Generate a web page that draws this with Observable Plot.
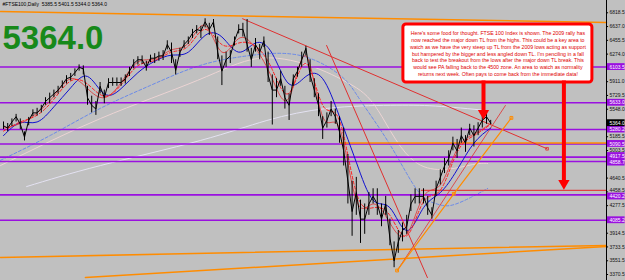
<!DOCTYPE html>
<html><head><meta charset="utf-8">
<script src="https://cdn.jsdelivr.net/npm/d3@7"></script>
<script src="https://cdn.jsdelivr.net/npm/@observablehq/plot@0.6"></script>
<style>body{margin:0;background:#c0c0c0;overflow:hidden} svg{display:block}</style>
</head><body><div id="chart"></div>
<script>
// ---------- data ----------
const startDate = "2005-08-15";   // left edge of the chart
const endDate = "2011-02-25";     // right edge of the chart
const seriesStart = "2005-08-25"; // first price sample
const symbol = "#FTSE100,Daily";
const ohlcText = "5385.5 5401.5 5344.0 5364.0";
const lastPrice = 5364.0;
// bi-weekly closes, lows, highs
const closes = [5330,5300,5380,5450,5350,5180,5400,5500,5500,5560,5650,5700,5750,5800,5870,5950,5970,6030,6100,6080,5700,5600,5550,5850,5700,5900,5900,5900,5900,5950,6050,6150,6200,6200,6100,6220,6220,6250,6250,6400,6300,6060,6300,6400,6460,6550,6600,6580,6700,6600,6700,6300,6050,6200,6250,6450,6600,6600,6400,6200,6400,6300,6450,6000,5800,5800,5950,5700,5600,5950,6050,6200,6350,6000,5800,5600,5300,5400,5550,5450,5250,5000,4600,4200,4450,4100,4100,4300,4400,4300,4100,4300,3850,3550,3800,3950,4000,4300,4400,4400,4400,4250,4150,4500,4650,4800,4900,5100,5000,5200,5100,5300,5200,5300,5400,5450,5364];
const lows = [5280,5250,5320,5380,5280,5130,5330,5450,5460,5500,5600,5620,5700,5750,5820,5880,5920,5980,6050,6000,5600,5500,5467,5750,5620,5820,5850,5850,5850,5880,5980,6080,6130,6140,6050,6160,6150,6180,6190,6330,6150,6000,6230,6350,6400,6480,6540,6480,6620,6520,6620,6200,5860,6100,6150,6380,6540,6500,6300,6100,6300,6200,6360,5900,5340,5700,5850,5550,5400,5850,5970,6100,6250,5900,5700,5450,5150,5300,5450,5350,5100,4800,4300,3874,4150,3780,3900,4150,4300,4150,4000,4150,3750,3460,3650,3800,3900,4200,4300,4300,4300,4150,4100,4400,4550,4700,4800,5000,4900,5100,4980,5200,5050,5200,5300,5350,5344];
const highs = [5380,5360,5420,5480,5420,5250,5440,5540,5560,5600,5700,5760,5800,5850,5920,5990,6020,6080,6132,6120,5850,5720,5650,5900,5800,5950,5960,5960,5960,6000,6100,6200,6240,6250,6180,6260,6280,6300,6320,6450,6420,6200,6350,6450,6500,6600,6650,6640,6740,6680,6730,6500,6250,6300,6320,6500,6660,6680,6730,6350,6480,6400,6500,6300,6000,5950,6050,5850,5750,6000,6100,6300,6376,6200,5950,5750,5450,5500,5650,5550,5450,5300,4950,4600,4650,4350,4300,4450,4500,4500,4300,4400,4100,3800,3950,4050,4150,4420,4500,4500,4500,4400,4250,4600,4750,4900,5000,5180,5150,5300,5200,5350,5330,5370,5450,5500,5401];
// moving averages, every 8 weeks
const maFastDashed = [5260,5380,5470,5680,5920,5880,5720,5870,6120,6190,6300,6380,6600,6400,6420,6380,6070,5760,6150,5600,5400,4450,4250,4150,3880,4330,4480,4980,5200,5350];
const maFastSolid  = [5300,5360,5500,5720,5950,5820,5700,5900,6170,6210,6330,6420,6650,6300,6480,6350,5950,5700,6250,5450,5300,4350,4300,4050,3900,4400,4550,5020,5220,5360];
const maMid        = [5200,5370,5380,5580,5830,5980,5750,5820,6030,6180,6260,6300,6520,6500,6300,6420,6280,5880,5980,5950,5450,4850,4350,4250,3950,4250,4450,4750,5100,5300];
// slower averages: [date, value]
const maSlow = [["2005-08-15",4875],["2006-01-29",5205],["2006-07-14",5560],["2006-12-28",5862],["2007-06-12",6125],["2007-11-25",6256],["2008-05-10",6256],["2008-09-21",5993],["2008-11-27",5663],["2009-03-07",5070],["2009-06-05",4477],["2009-08-04",4306],["2009-09-23",4280],["2009-11-29",4385],["2010-01-25",4504]];
const ma200 = [["2005-08-15",4806],["2006-07-14",5425],["2007-06-02",5927],["2007-12-20",6216],["2008-06-10",6124],["2008-10-20",5887],["2009-01-25",5531],["2009-06-05",4833],["2009-11-20",4806],["2010-01-25",4833]];
const ma365 = [["2005-11-10",4529],["2006-07-14",4806],["2007-06-12",5136],["2008-01-20",5400],["2008-08-10",5560],["2009-03-07",5600],["2009-08-04",5590],["2010-01-25",5530]];
// horizontal levels (purple), red & orange levels
const levels = [6103.5, 5633.0, 5280.2, 5090.5, 4917.5, 4858.7, 4420.2, 4085.2];
const redLevel = {from: "2009-06-18", value: 4480};
const orangeLevel = {from: "2008-09-21", value: 5103};
// trend lines: [date, value] endpoints
const orangeTop = [["2005-08-15",6835],["2011-02-25",6690]];
const majorDownTL = [["2007-10-31",6740],["2010-08-11",5027]];
const steepDownTL = [["2008-08-06",6388],["2009-07-08",3330]];
const redUpTL = [["2009-04-03",3450],["2010-03-25",5597]];
const orangeUpTL = [["2009-03-29",3423],["2009-10-04",4434],["2010-04-14",5434]];
const orangeBottomA = [["2005-08-15",3596],["2011-02-25",3754]];
const orangeBottomB = [["2006-05-25",3332],["2011-02-25",3741]];
const axisTicks = [6818.5,6637.0,6455.5,6274.0,5911.0,5729.5,5548.0,5185.5,5003.5,4640.5,4458.5,4277.5,3914.5,3733.5,3551.5,3370.5];
const note = "Here's some food for thought. FTSE 100 Index is shown. The 2009 rally has\nnow reached the major down TL from the highs. This could be a key area to\nwatch as we have the very steep up TL from the 2009 lows acting as support\nbut hampered by the bigger and less angled down TL. I'm penciling in a fall\nback to test the breakout from the lows after the major down TL break. This\nwould see PA falling back to the 4500 zone. An area to watch as normality\nreturns next week. Often pays to come back from the immediate data!";
const noteBox = {x1: "2009-04-19", x2: "2011-01-09", y1: 5900, y2: 6664};
const arrows = [{x: "2010-01-11", from: 5920, to: 5410}, {x: "2010-10-06", from: 5920, to: 4490}];

// ---------- build ----------
const D = s => new Date(s + "T00:00:00Z");
const t0 = D(startDate);
const s0 = D(seriesStart);
const bars = closes.map((c, i) => ({date: d3.utcDay.offset(s0, 14 * i), close: c, low: lows[i], high: highs[i]}));
const ma8 = arr => arr.map((v, i) => ({date: d3.utcDay.offset(s0, 56 * i), v}));
const pts = arr => arr.map(([d, v]) => ({date: D(d), v}));
const xEnd = D(endDate);
const lab = (v) => ({v, x1: d3.utcDay.offset(xEnd, 3), x2: d3.utcDay.offset(xEnd, 62)});
const purple = "#9a10e0";
const font = "Liberation Sans, Arial, sans-serif";
const noteMid = new Date((D(noteBox.x1).getTime() + D(noteBox.x2).getTime()) / 2);
// small label nudges where axis labels crowd each other (in price units)
const nudge = new Map([[4917.5, 14], [4858.7, -14], [4420.2, -22], [4458.5, 22]]);
const ny = d => d + (nudge.get(d) || 0);

const chart = Plot.plot({
  width: 625, height: 280,
  marginLeft: 0, marginRight: 19, marginTop: 0, marginBottom: 0,
  style: {background: "#c0c0c0", fontFamily: font, overflow: "visible"},
  x: {type: "utc", domain: [t0, xEnd], axis: null},
  y: {domain: [3291.5, 6980.5], axis: null},
  marks: [
    // long averages
    Plot.line(pts(ma365), {x: "date", y: "v", stroke: "#e4e2f2", strokeWidth: 1, curve: "natural"}),
    Plot.line(pts(ma200), {x: "date", y: "v", stroke: "#ecd4d4", strokeWidth: 1, curve: "natural"}),
    Plot.line(pts(maSlow), {x: "date", y: "v", stroke: "#6b8ae8", strokeWidth: 1, strokeDasharray: "3,2", curve: "natural"}),
    // horizontal levels
    Plot.ruleY(levels, {stroke: purple, strokeWidth: 1.6}),
    Plot.ruleY([redLevel], {y: "value", x1: d => D(d.from), x2: xEnd, stroke: "#e04040", strokeWidth: 1.2}),
    Plot.ruleY([orangeLevel], {y: "value", x1: d => D(d.from), x2: xEnd, stroke: "#ff8c00", strokeWidth: 1.4}),
    // trend lines
    Plot.line(pts(orangeTop), {x: "date", y: "v", stroke: "#ff8c00", strokeWidth: 1.5}),
    Plot.line(pts(orangeBottomA), {x: "date", y: "v", stroke: "#ff8c00", strokeWidth: 1.5}),
    Plot.line(pts(orangeBottomB), {x: "date", y: "v", stroke: "#ff8c00", strokeWidth: 1.5}),
    Plot.line(pts(majorDownTL), {x: "date", y: "v", stroke: "#e03030", strokeWidth: 1}),
    Plot.dot(pts(majorDownTL).slice(1), {x: "date", y: "v", symbol: "square", r: 1.5, stroke: "#e03030", fill: "none", strokeWidth: 0.8}),
    Plot.line(pts(steepDownTL), {x: "date", y: "v", stroke: "#e03030", strokeWidth: 1}),
    Plot.line(pts(redUpTL), {x: "date", y: "v", stroke: "#e03030", strokeWidth: 0.8}),
    Plot.line(pts(orangeUpTL), {x: "date", y: "v", stroke: "#ff8c00", strokeWidth: 1.2}),
    Plot.dot(pts(orangeUpTL), {x: "date", y: "v", symbol: "square", r: 1.6, stroke: "#ff8c00", fill: "none", strokeWidth: 1}),
    // short averages
    Plot.line(ma8(maMid), {x: "date", y: "v", stroke: "#1010d0", strokeWidth: 1, curve: "natural"}),
    Plot.line(ma8(maFastSolid), {x: "date", y: "v", stroke: "#e03030", strokeWidth: 0.8, curve: "natural"}),
    Plot.line(ma8(maFastDashed), {x: "date", y: "v", stroke: "#ff2020", strokeWidth: 1, strokeDasharray: "3,2", curve: "natural"}),
    // price
    Plot.ruleX(bars, {x: "date", y1: "low", y2: "high", stroke: "#000", strokeWidth: 1}),
    Plot.line(bars, {x: "date", y: "close", stroke: "#000", strokeWidth: 1}),
    // note box and arrows
    Plot.rect([noteBox], {x1: d => D(d.x1), x2: d => D(d.x2), y1: "y1", y2: "y2", fill: "white", stroke: "#ff0000", strokeWidth: 3, rx: 3}),
    Plot.text([note], {x: noteMid, y: (noteBox.y1 + noteBox.y2) / 2, text: d => d, fill: "#e00000", fontSize: 5.2, lineHeight: 1.3, textAnchor: "middle"}),
    Plot.ruleX(arrows, {x: d => D(d.x), y1: "from", y2: d => d.to + 84, stroke: "#ff0000", strokeWidth: 4}),
    Plot.dot(arrows, {x: d => D(d.x), y: d => d.to + 84, symbol: "triangle", rotate: 180, r: 4.2, fill: "#ff0000"}),
    // right axis
    Plot.ruleX([xEnd], {stroke: "#000", strokeWidth: 1}),
    Plot.ruleY(axisTicks, {x1: xEnd, x2: d3.utcDay.offset(xEnd, 7), stroke: "#000"}),
    Plot.text(axisTicks, {x: xEnd, y: ny, text: d => d.toFixed(1), dx: 3, textAnchor: "start", fontSize: 5, fill: "#111"}),
    Plot.rect(levels.map(lab), {x1: "x1", x2: "x2", y1: d => ny(d.v) - 45, y2: d => ny(d.v) + 45, fill: purple}),
    Plot.text(levels, {x: xEnd, y: ny, text: d => d.toFixed(1), dx: 3, textAnchor: "start", fontSize: 5, fill: "#fff"}),
    Plot.rect([lab(lastPrice)], {x1: "x1", x2: "x2", y1: d => d.v - 45, y2: d => d.v + 45, fill: "#000"}),
    Plot.text([lastPrice], {x: xEnd, y: d => d, text: d => d.toFixed(1), dx: 3, textAnchor: "start", fontSize: 5, fill: "#fff"}),
    // header and big price
    Plot.text([symbol + "  " + ohlcText], {frameAnchor: "top-left", dx: 2, dy: 2, fontSize: 5, fill: "#000"}),
    Plot.text([lastPrice.toFixed(1)], {frameAnchor: "top-left", dx: 2, dy: 25, fontSize: 33, fontWeight: "bold", fill: "#17891a"})
  ]
});
document.getElementById("chart").append(chart);
</script>
</body></html>
